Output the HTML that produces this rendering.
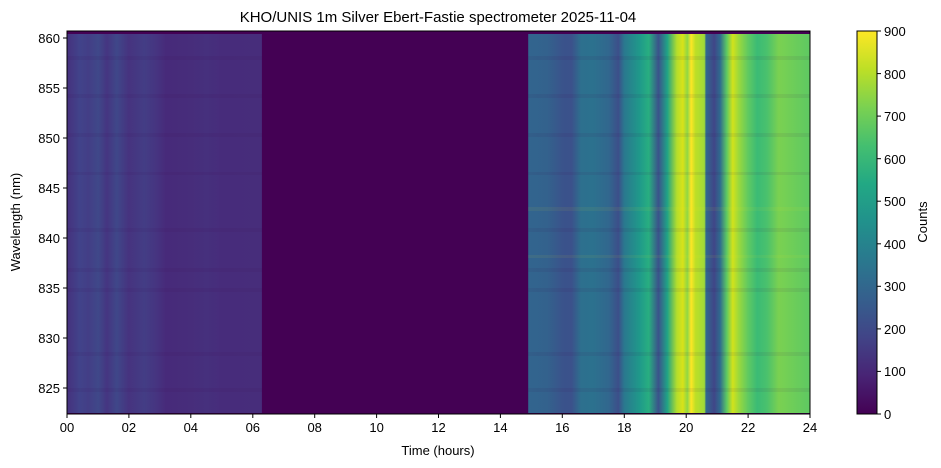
<!DOCTYPE html>
<html><head><meta charset="utf-8"><style>
body{margin:0;background:#fff;}
svg{display:block;font-family:"Liberation Sans","DejaVu Sans",sans-serif;}
</style></head><body>
<svg width="941" height="468" viewBox="0 0 941 468" xmlns="http://www.w3.org/2000/svg">
<defs>
<linearGradient id="g" x1="67" x2="810" y1="0" y2="0" gradientUnits="userSpaceOnUse">
<stop offset="0" stop-color="#46317e"/>
<stop offset="0.017" stop-color="#41438a"/>
<stop offset="0.029" stop-color="#433e86"/>
<stop offset="0.042" stop-color="#3f4889"/>
<stop offset="0.054" stop-color="#453581"/>
<stop offset="0.067" stop-color="#3f4789"/>
<stop offset="0.083" stop-color="#46337f"/>
<stop offset="0.104" stop-color="#433d85"/>
<stop offset="0.121" stop-color="#463480"/>
<stop offset="0.133" stop-color="#472a7a"/>
<stop offset="0.167" stop-color="#472d7b"/>
<stop offset="0.188" stop-color="#46307d"/>
<stop offset="0.208" stop-color="#472c7b"/>
<stop offset="0.262" stop-color="#472d7b"/>
<stop offset="0.2625" stop-color="#440154"/>
<stop offset="0.6205" stop-color="#440154"/>
<stop offset="0.621" stop-color="#32658e"/>
<stop offset="0.646" stop-color="#33628d"/>
<stop offset="0.667" stop-color="#3a538b"/>
<stop offset="0.679" stop-color="#3b518b"/>
<stop offset="0.692" stop-color="#2d708e"/>
<stop offset="0.708" stop-color="#2c718e"/>
<stop offset="0.729" stop-color="#31678e"/>
<stop offset="0.742" stop-color="#3c4f8a"/>
<stop offset="0.75" stop-color="#2a788e"/>
<stop offset="0.771" stop-color="#1f9a8a"/>
<stop offset="0.783" stop-color="#28ae80"/>
<stop offset="0.796" stop-color="#3b528b"/>
<stop offset="0.808" stop-color="#20a386"/>
<stop offset="0.821" stop-color="#b5de2b"/>
<stop offset="0.829" stop-color="#d8e219"/>
<stop offset="0.835" stop-color="#8fd744"/>
<stop offset="0.84" stop-color="#fde725"/>
<stop offset="0.846" stop-color="#bddf26"/>
<stop offset="0.858" stop-color="#a0da39"/>
<stop offset="0.86" stop-color="#31688e"/>
<stop offset="0.871" stop-color="#404688"/>
<stop offset="0.879" stop-color="#2f6b8e"/>
<stop offset="0.888" stop-color="#5ec962"/>
<stop offset="0.896" stop-color="#d2e21b"/>
<stop offset="0.904" stop-color="#9bd93c"/>
<stop offset="0.917" stop-color="#5ec962"/>
<stop offset="0.929" stop-color="#3bbb75"/>
<stop offset="0.942" stop-color="#4ac16d"/>
<stop offset="0.958" stop-color="#7ad151"/>
<stop offset="0.979" stop-color="#6ccd5a"/>
<stop offset="1" stop-color="#5ec962"/>
</linearGradient>
<linearGradient id="cb" x1="0" x2="0" y1="1" y2="0">
<stop offset="0" stop-color="#440154"/><stop offset="0.1" stop-color="#482475"/>
<stop offset="0.2" stop-color="#414487"/><stop offset="0.3" stop-color="#355f8d"/>
<stop offset="0.4" stop-color="#2a788e"/><stop offset="0.5" stop-color="#21918c"/>
<stop offset="0.6" stop-color="#22a884"/><stop offset="0.7" stop-color="#44bf70"/>
<stop offset="0.8" stop-color="#7ad151"/><stop offset="0.9" stop-color="#bddf26"/>
<stop offset="1" stop-color="#fde725"/>
</linearGradient>
</defs>
<text x="438" y="22" font-size="15" text-anchor="middle">KHO/UNIS 1m Silver Ebert-Fastie spectrometer 2025-11-04</text>
<rect x="67" y="31" width="743" height="383" fill="#440154"/>
<rect x="67" y="34" width="743" height="379" fill="url(#g)"/>
<g fill="#440154" opacity="0.07">
<g id="bl">
<rect x="67" y="56" width="195" height="4"/><rect x="67" y="94" width="195" height="4"/>
<rect x="67" y="133" width="195" height="4"/><rect x="67" y="172" width="195" height="3"/>
<rect x="67" y="228" width="195" height="4"/><rect x="67" y="268" width="195" height="4"/>
<rect x="67" y="288" width="195" height="4"/><rect x="67" y="352" width="195" height="4"/>
<rect x="67" y="388" width="195" height="4"/>
</g>
<use href="#bl" x="461"/>
<use href="#bl" x="548"/>
</g>
<g fill="#fde725" opacity="0.06">
<rect x="528" y="207" width="282" height="4"/><rect x="528" y="255" width="282" height="3"/>
</g>
<rect x="67" y="31" width="743" height="383" fill="none" stroke="#000" stroke-width="1"/>
<g font-size="13" fill="#000" text-anchor="middle">
<g stroke="#000">
<line x1="67" x2="67" y1="414" y2="418"/><line x1="128.9" x2="128.9" y1="414" y2="418"/>
<line x1="190.8" x2="190.8" y1="414" y2="418"/><line x1="252.8" x2="252.8" y1="414" y2="418"/>
<line x1="314.7" x2="314.7" y1="414" y2="418"/><line x1="376.6" x2="376.6" y1="414" y2="418"/>
<line x1="438.5" x2="438.5" y1="414" y2="418"/><line x1="500.4" x2="500.4" y1="414" y2="418"/>
<line x1="562.3" x2="562.3" y1="414" y2="418"/><line x1="624.3" x2="624.3" y1="414" y2="418"/>
<line x1="686.2" x2="686.2" y1="414" y2="418"/><line x1="748.1" x2="748.1" y1="414" y2="418"/>
<line x1="810" x2="810" y1="414" y2="418"/>
</g>
<text x="67" y="432">00</text><text x="128.9" y="432">02</text><text x="190.8" y="432">04</text>
<text x="252.8" y="432">06</text><text x="314.7" y="432">08</text><text x="376.6" y="432">10</text>
<text x="438.5" y="432">12</text><text x="500.4" y="432">14</text><text x="562.3" y="432">16</text>
<text x="624.3" y="432">18</text><text x="686.2" y="432">20</text><text x="748.1" y="432">22</text>
<text x="810" y="432">24</text>
<text x="438" y="455">Time (hours)</text>
</g>
<g font-size="13" text-anchor="end">
<g stroke="#000">
<line x1="63" x2="67" y1="38" y2="38"/><line x1="63" x2="67" y1="88" y2="88"/>
<line x1="63" x2="67" y1="138" y2="138"/><line x1="63" x2="67" y1="188" y2="188"/>
<line x1="63" x2="67" y1="238" y2="238"/><line x1="63" x2="67" y1="288" y2="288"/>
<line x1="63" x2="67" y1="338" y2="338"/><line x1="63" x2="67" y1="388" y2="388"/>
</g>
<text x="60" y="43">860</text><text x="60" y="93">855</text><text x="60" y="143">850</text>
<text x="60" y="193">845</text><text x="60" y="243">840</text><text x="60" y="293">835</text>
<text x="60" y="343">830</text><text x="60" y="393">825</text>
</g>
<text transform="translate(20,222) rotate(-90)" font-size="13" text-anchor="middle">Wavelength (nm)</text>
<rect x="857" y="31" width="20" height="383" fill="url(#cb)" stroke="#000" stroke-width="1"/>
<g stroke="#000">
<line x1="877" x2="881" y1="414" y2="414"/><line x1="877" x2="881" y1="371.4" y2="371.4"/>
<line x1="877" x2="881" y1="328.9" y2="328.9"/><line x1="877" x2="881" y1="286.3" y2="286.3"/>
<line x1="877" x2="881" y1="243.8" y2="243.8"/><line x1="877" x2="881" y1="201.2" y2="201.2"/>
<line x1="877" x2="881" y1="158.7" y2="158.7"/><line x1="877" x2="881" y1="116.1" y2="116.1"/>
<line x1="877" x2="881" y1="73.6" y2="73.6"/><line x1="877" x2="881" y1="31" y2="31"/>
</g>
<g font-size="13">
<text x="884" y="419">0</text><text x="884" y="376">100</text><text x="884" y="334">200</text>
<text x="884" y="291">300</text><text x="884" y="249">400</text><text x="884" y="206">500</text>
<text x="884" y="164">600</text><text x="884" y="121">700</text><text x="884" y="79">800</text>
<text x="884" y="36">900</text>
</g>
<text transform="translate(927,222) rotate(-90)" font-size="13" text-anchor="middle">Counts</text>
</svg>
</body></html>
